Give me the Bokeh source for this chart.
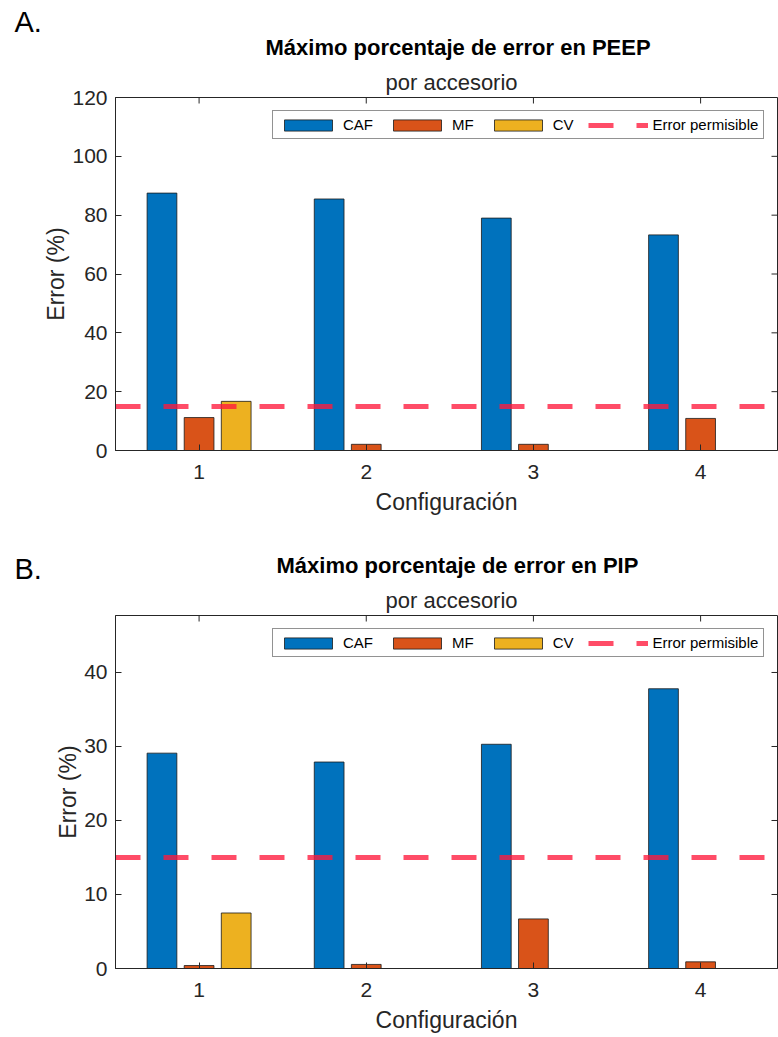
from bokeh.plotting import figure
from bokeh.models import (ColumnDataSource, Label, Legend, LegendItem, Title,
                          FixedTicker, Range1d)
from bokeh.layouts import column
from bokeh.transform import dodge
from bokeh.embed import file_html
from bokeh.resources import INLINE

# ---------------- data ----------------
configs = [1, 2, 3, 4]
series_names = ["CAF", "MF", "CV"]
series_colors = ["#0072BD", "#D95319", "#EDB120"]

peep_caf = [87.5, 85.5, 79.0, 73.3]
peep_mf = [11.2, 2.1, 2.1, 10.9]
peep_cv = [16.7, 0.0, 0.0, 0.0]

pip_caf = [29.1, 27.9, 30.3, 37.8]
pip_mf = [0.4, 0.55, 6.7, 0.9]
pip_cv = [7.5, 0.0, 0.0, 0.0]

error_permisible = 15
threshold_label = "Error permisible"

peep_yticks = [0, 20, 40, 60, 80, 100, 120]
pip_yticks = [0, 10, 20, 30, 40]
peep_ymax = 120
pip_ymax = 47.7
x_lo, x_hi = 0.5, 4.46

FONT = "Liberation Sans"
AX = "#262626"
W = 778
FRAME_L = 115
FRAME_H = 353
TICK = 6


def make_panel(letter, letter_pos, title, title_off, subtitle, sub_off,
               caf, mf, cv, ymax, yticks, height, border_top):
    border_bottom = height - border_top - FRAME_H
    src = ColumnDataSource(dict(x=configs, caf=caf, mf=mf, cv=cv))
    p = figure(width=W, height=height, output_backend="svg", toolbar_location=None,
               x_range=Range1d(x_lo, x_hi), y_range=Range1d(0, ymax),
               min_border_left=FRAME_L, min_border_right=1,
               min_border_top=border_top, min_border_bottom=border_bottom)
    p.grid.visible = False
    p.outline_line_color = AX
    p.outline_line_width = 1
    p.background_fill_color = "white"
    p.border_fill_color = "white"

    frame_w = W - 1 - FRAME_L
    px_x = frame_w / (x_hi - x_lo)
    px_y = FRAME_H / ymax

    offsets = [-0.222, 0.0, 0.222]
    cols = ["caf", "mf", "cv"]
    rends = []
    for off, c, color in zip(offsets, cols, series_colors):
        r = p.vbar(x=dodge("x", off), top=c, width=0.178, source=src,
                   fill_color=color, line_color="#1a1a1a", line_width=0.8)
        rends.append(r)
    ln = p.line(x=[x_lo, x_hi], y=[error_permisible, error_permisible],
                line_color="#FF1A3C", line_alpha=0.78, line_width=5,
                line_dash="25 23", line_cap="butt")
    rends.append(ln)

    # box ticks on top and right (MATLAB style)
    p.segment(x0=configs, x1=configs, y0=[ymax] * len(configs),
              y1=[ymax - TICK / px_y] * len(configs), line_color=AX, line_width=1)
    p.segment(x0=[x_hi] * len(yticks), x1=[x_hi - TICK / px_x] * len(yticks),
              y0=yticks, y1=yticks, line_color=AX, line_width=1)

    legend = Legend(items=[LegendItem(label=n, renderers=[r])
                           for n, r in zip(series_names + [threshold_label], rends)],
                    orientation="horizontal", location=(157, 311),
                    border_line_color=AX, border_line_width=1,
                    background_fill_color="white", background_fill_alpha=1,
                    label_text_font=FONT, label_text_font_size="15px",
                    label_text_color="#000000",
                    glyph_width=60, glyph_height=14, label_standoff=5,
                    spacing=14, padding=5, margin=0, label_height=14)
    p.add_layout(legend)

    xa = p.xaxis[0]
    xa.ticker = FixedTicker(ticks=configs)
    ya = p.yaxis[0]
    ya.ticker = FixedTicker(ticks=yticks)
    for ax in (xa, ya):
        ax.major_tick_in = TICK
        ax.major_tick_out = 0
        ax.minor_tick_line_color = None
        ax.axis_line_color = AX
        ax.major_tick_line_color = AX
        ax.major_label_text_font = FONT
        ax.major_label_text_font_size = "21px"
        ax.major_label_text_color = AX
        ax.axis_label_text_font = FONT
        ax.axis_label_text_font_size = "23px"
        ax.axis_label_text_font_style = "normal"
        ax.axis_label_text_color = AX
    xa.axis_label = "Configuración"
    xa.major_label_standoff = 14
    xa.axis_label_standoff = 7
    ya.axis_label = "Error (%)"
    ya.major_label_standoff = 8
    ya.axis_label_standoff = 0

    # subtitle (closest to frame) then bold title
    p.add_layout(Title(text=subtitle, align="left", offset=sub_off, standoff=5,
                       vertical_align="bottom", text_font=FONT, text_font_size="22px",
                       text_font_style="normal", text_color="#262626"), "above")
    p.add_layout(Title(text=title, align="left", offset=title_off, standoff=11,
                       vertical_align="bottom", text_font=FONT, text_font_size="22px",
                       text_font_style="bold", text_color="#000000"), "above")

    # panel letter, in canvas pixels
    p.add_layout(Label(x=letter_pos[0], y=letter_pos[1], x_units="canvas", y_units="canvas",
                       text=letter, text_font=FONT, text_font_size="29px",
                       text_color="#000000", text_baseline="alphabetic",
                       text_align="left"), "left")
    return p


pA = make_panel("A.", (14, 21), "Máximo porcentaje de error en PEEP", 150,
                "por accesorio", 270,
                peep_caf, peep_mf, peep_cv, peep_ymax, peep_yticks,
                height=540, border_top=97)
pB = make_panel("B.", (14, 28), "Máximo porcentaje de error en PIP", 161,
                "por accesorio", 270,
                pip_caf, pip_mf, pip_cv, pip_ymax, pip_yticks,
                height=497, border_top=75)

layout = column(pA, pB, spacing=0)
open("out.html", "w").write(file_html(layout, INLINE))
